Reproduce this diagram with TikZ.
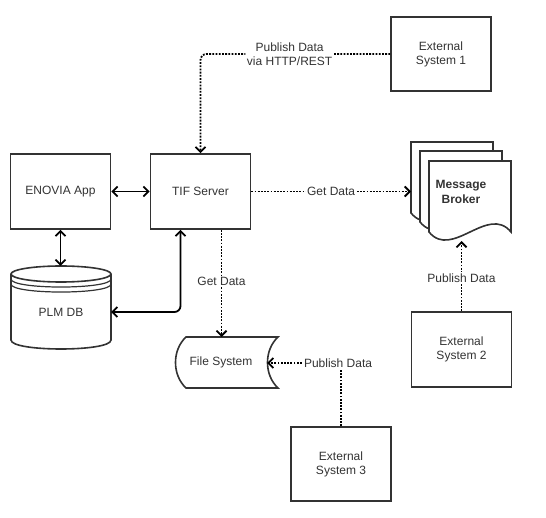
\documentclass[tikz,border=0pt]{standalone}
\usepackage{fontspec}
\setmainfont{Liberation Sans}
\usetikzlibrary{arrows.meta}
\definecolor{edge}{HTML}{333333}
\definecolor{txt}{HTML}{333333}
\begin{document}
\begin{tikzpicture}[x=1pt,y=-1pt,
  font=\fontsize{12}{14}\selectfont,
  box/.style={draw=edge, line width=1.6pt, fill=white, minimum width=100pt,
    minimum height=75pt, align=center, inner sep=0pt, text=txt},
  shapeline/.style={draw=edge, line width=1.6pt, fill=white},
  plain/.style={text=txt, align=center, inner sep=0pt},
  conn/.style={line width=1.8pt, black},
  tip/.style={-{Straight Barb[length=5pt,width=10pt]}},
  bitip/.style={{Straight Barb[length=5pt,width=10pt]}-{Straight Barb[length=5pt,width=10pt]}},
  dotline/.style={conn, dash pattern=on 1.8pt off 1.4pt},
  lbl/.style={fill=white, text=txt, align=center, inner sep=1.5pt}
]
\useasboundingbox (0,0) rectangle (546,518);

% rectangular boxes
\node[box, minimum height=74pt] (ext1) at (441,54) {External\\System 1};
\node[box] (enovia) at (60.5,191.5) {ENOVIA App};
\node[box] (tif) at (200.5,191.5) {TIF Server};
\node[box] (ext2) at (461.5,349.5) {External\\System 2};
\node[box, minimum height=74pt] (ext3) at (341,464) {External\\System 3};

% PLM DB cylinder
\draw[shapeline] (11,274) -- (11,340) .. controls (11,352) and (111,352) .. (111,340) -- (111,274);
\draw[shapeline] (61,274) ellipse [x radius=50pt, y radius=8pt];
\draw[draw=edge, line width=1.2pt] (11,279) .. controls (11,289.7) and (111,289.7) .. (111,279);
\draw[draw=edge, line width=1.2pt] (11,284) .. controls (11,294.7) and (111,294.7) .. (111,284);
\node[plain] (plm) at (61,312) {PLM DB};
\coordinate (plmN) at (60.5,266);
\coordinate (plmE) at (111,312);

% File system (stored data)
\draw[shapeline] (186,337) -- (278,337) .. controls (264,350) and (264,375) .. (278,388)
  -- (186,388) .. controls (172,375) and (172,350) .. (186,337) -- cycle;
\node[plain] (fs) at (221,362) {File System};
\coordinate (fsN) at (221.5,337);
\coordinate (fsE) at (267,363);

% Message broker (multiple documents)
\foreach \dx/\dy in {18/19, 9/10, 0/0} {
  \draw[shapeline, shift={(-\dx,-\dy)}] (429,161) -- (511,161) -- (511,232)
    .. controls (488,204) and (452,260) .. (429,232) -- cycle;
}
\node[plain, font=\fontsize{12}{15.5}\selectfont\bfseries] (broker) at (461,192) {Message\\Broker};
\coordinate (brokerW) at (411,191.5);
\coordinate (brokerS) at (461.5,241);

% solid connectors
\draw[conn, bitip] (enovia.east) -- (tif.west);
\draw[conn, bitip] (enovia.south) -- (plmN);
\draw[conn, bitip, rounded corners=6pt] ([xshift=-20pt]tif.south) |- (plmE);

% dotted connectors
\draw[dotline, tip, rounded corners=6pt] (ext1.west) -| (tif.north)
  node[lbl, pos=0.265] {Publish Data\\via HTTP/REST};
\draw[dotline, tip] (tif.east) -- (brokerW) node[lbl, pos=0.5] {Get Data};
\draw[dotline, tip] ([xshift=21pt]tif.south) -- (fsN) node[lbl, pos=0.48] {Get Data};
\draw[dotline, tip] (ext3.north) |- (fsE) node[lbl, pos=0.52] {Publish Data};
\draw[dotline, tip] (ext2.north) -- (brokerS) node[lbl, pos=0.47] {Publish Data};
\end{tikzpicture}
\end{document}
